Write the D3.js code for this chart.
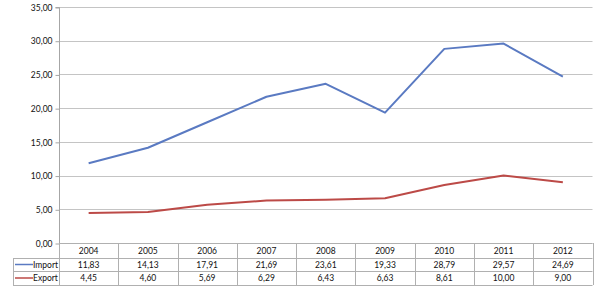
<!DOCTYPE html>
<html><head><meta charset="utf-8">
<script src="https://cdn.jsdelivr.net/npm/d3@7"></script>
<style>body{margin:0;background:#fff}svg{display:block}</style>
</head><body><svg id="c" width="600" height="289"></svg>
<script>
const years = ["2004","2005","2006","2007","2008","2009","2010","2011","2012"];
const importVals = [11.83,14.13,17.91,21.69,23.61,19.33,28.79,29.57,24.69];
const exportVals = [4.45,4.60,5.69,6.29,6.43,6.63,8.61,10.00,9.00];
const yTicks = [0,5,10,15,20,25,30,35];
const series = [
  {name:"Import", values:importVals, color:"#5A7AC2"},
  {name:"Export", values:exportVals, color:"#BC4A47"}
];

(function(){
const svg = d3.select("#c");
const pL = 59, pR = 592.5, pT = 7, pB = 243;
const fmt = v => v.toFixed(2).replace(".", ",");
const font = "Lato, 'Open Sans', sans-serif";
const fs = 8.5;

const x = d3.scaleBand().domain(years).range([pL, pR]);
const y = d3.scaleLinear().domain([0,35]).range([pB, pT]);

svg.append("g").selectAll("line").data(yTicks).join("line")
  .attr("x1", pL).attr("x2", pR)
  .attr("y1", d=>Math.round(y(d))+0.5).attr("y2", d=>Math.round(y(d))+0.5)
  .attr("stroke", "#c4c4c4").attr("stroke-width", 1);

const yAxis = d3.axisLeft(y).tickValues(yTicks).tickFormat(fmt).tickSize(4).tickPadding(3);
const ga = svg.append("g").attr("transform", `translate(${pL+0.5},0.5)`).call(yAxis);
ga.select(".domain").attr("stroke", "#a6a6a6").attr("d", `M-4,${y(35)}H0V${pB}`);
ga.selectAll(".tick line").attr("stroke", "#a6a6a6");
ga.selectAll("text").attr("font-family", font).attr("font-size", fs).attr("fill", "#111");

const line = d3.line().x((d,i)=>x(years[i])+x.bandwidth()/2).y(d=>y(d));
series.forEach(s=>{
  svg.append("path").datum(s.values).attr("d", line)
    .attr("fill","none").attr("stroke", s.color).attr("stroke-width", 2)
    .attr("stroke-linejoin","round");
});

const rowY = [243, 258, 271, 285];
const tableLeft = 13;
const tg = svg.append("g");
const stroke = "#b0b0b0";
[0,1,2,3].forEach(i=>{
  const x1 = i===0 ? pL : tableLeft;
  tg.append("line").attr("x1", x1).attr("x2", pR).attr("y1", rowY[i]+0.5).attr("y2", rowY[i]+0.5)
    .attr("stroke", stroke);
});
const vxs = years.map(yy=>x(yy)).concat([pR]);
vxs.forEach(vx=>{
  tg.append("line").attr("x1", Math.round(vx)+0.5).attr("x2", Math.round(vx)+0.5)
    .attr("y1", rowY[0]).attr("y2", rowY[3]).attr("stroke", stroke);
});
tg.append("line").attr("x1", tableLeft+0.5).attr("x2", tableLeft+0.5)
  .attr("y1", rowY[1]).attr("y2", rowY[3]).attr("stroke", stroke);

tg.selectAll("text.yr").data(years).join("text")
  .attr("x", d=>x(d)+x.bandwidth()/2).attr("y", (rowY[0]+rowY[1])/2+3)
  .attr("text-anchor","middle").attr("font-family", font).attr("font-size", fs).attr("fill","#111")
  .text(d=>d);

series.forEach((s,si)=>{
  const ry = (rowY[si+1]+rowY[si+2])/2;
  tg.append("line").attr("x1", 15).attr("x2", 33).attr("y1", ry).attr("y2", ry)
    .attr("stroke", s.color).attr("stroke-width", 1.5);
  tg.append("text").attr("x", 33).attr("y", ry+3).attr("font-family", font).attr("font-size", fs)
    .attr("fill","#111").text(s.name);
  tg.selectAll(null).data(s.values).join("text")
    .attr("x", (d,i)=>x(years[i])+x.bandwidth()/2).attr("y", ry+3)
    .attr("text-anchor","middle").attr("font-family", font).attr("font-size", fs).attr("fill","#111")
    .text(d=>fmt(d));
});
})();
</script></body></html>
